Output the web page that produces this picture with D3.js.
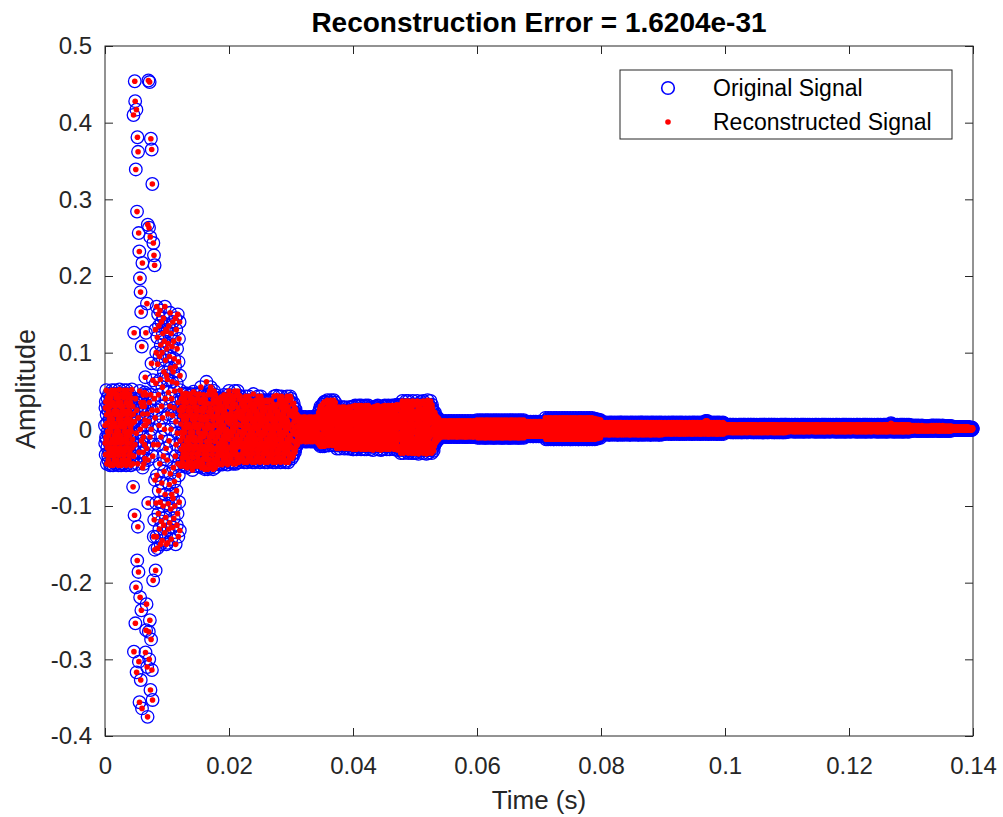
<!DOCTYPE html>
<html>
<head>
<meta charset="utf-8">
<script src="https://cdn.jsdelivr.net/npm/d3@7"></script>
<style>
  body { margin: 0; background: #fff; }
  svg { font-family: "Liberation Sans", Arial, sans-serif; }
</style>
</head>
<body>
<svg width="1003" height="817"></svg>
<script>
(function (d3) {
  'use strict';
  const titleText = 'Reconstruction Error = 1.6204e-31';
  const xAxisLabelText = 'Time (s)';
  const yAxisLabelText = 'Amplitude';
  const legendLabels = ['Original Signal', 'Reconstructed Signal'];

  const xTicks = [0, 0.02, 0.04, 0.06, 0.08, 0.1, 0.12, 0.14];
  const xTickLabels = ['0', '0.02', '0.04', '0.06', '0.08', '0.1', '0.12', '0.14'];
  const yTicks = [-0.4, -0.3, -0.2, -0.1, 0, 0.1, 0.2, 0.3, 0.4, 0.5];
  const yTickLabels = ['-0.4', '-0.3', '-0.2', '-0.1', '0', '0.1', '0.2', '0.3', '0.4', '0.5'];

  // samples at 30 kHz, amplitudes in thousandths, one array per 10 ms
  const sampleRate = 30000;
  const ampUnit = 1000;

  const amp00 = [5,-18,28,-33,36,-10,
    51,-13,19,-45,8,-24,41,-3,30,-34,-40,24,-8,46,-29,13,-18,35,3,-47,
    30,-45,41,-3,-24,19,-34,51,-13,8,13,-29,35,-47,3,46,-18,24,-40,-8,
    -34,8,51,-24,30,-13,19,-45,41,-3,46,-18,-40,24,3,-29,35,-8,13,-47,
    41,-3,-34,19,52,-24,8,-13,30,-45,-8,35,-47,13,-18,46,3,-40,24,-29,
    19,-45,30,-13,41,-34,8,51,-3,-24,-29,3,46,-40,24,-8,-47,35,13,-18,
    51,-13,19,-45,8,-24,41,-3,30,-34,-40,24,-8,46,-29,13,-18,35,3,-47,
    41,-3,-34,19,52,-24,8,-13,30,-45,
    -75,20,410,-35,-290,126,10,-112,454,-20,428,-253,40,339,-206,-5,417,-317,25,284,
    -171,381,-45,-127,362,15,-186,256,-303,-30,232,-356,50,197,-219,0,179,-327,35,153,
    -236,-15,108,-364,30,217,-50,
    20,-30,45,-10,35,-45,5,30,-20,48,-38,12,
    68,-291,5,126,-262,45,-228,-25,164,-310,20,-375,267,
    -40,-96,455,10,-264,263,-300,35,453,-249,-10,251,-340,45,379,-274,0,86,365,-314,
    25,320,-353,-35,64,-197,243,-20,-140,227,-118,40,214,-157,-66,15,130,-184,60,-96,100,
    -140,160,-60,25,120,-155,85,-20,150,-110,45,-80,135,5,-130,95,-45,155,-95,65,
    -150,110,-10,-120,140,30,-70,100,-145,55,15,125,-100,-35,145,-125,75,-55,115,0,
    -135,160,-85,40,90,-115,130,-25,-150,70,105];

  const amp01 = [128,-40,65,-148,20,112,-97,48,-130,135,-15,-72,95,-122,30,152,-58,80,-104,0,
    125,-143,40,-85,108,62,-128,18,140,-90,75,-50,115,-116,28,92,-68,50,-100,82,
    -35,145,-150,10,-20,130,-80,60,-125,105,-5,-110,150,-45,35,-140,88,-60,118,-95,
    25,140,-132,70,
    51,-15,18,-48,7,-26,40,-4,29,-37,-43,24,-10,46,-32,13,-21,35,2,-46,
    29,-48,40,-4,-26,18,-37,47,-15,7,13,-32,35,-50,2,46,-21,24,-43,-10,
    -37,7,44,-26,29,-15,18,-48,40,-4,46,-21,-43,24,2,-32,35,-10,13,-53,
    40,-4,-37,18,49,-26,7,-15,29,-48,-10,35,-44,13,-21,46,2,-43,24,-32,
    18,-48,29,-15,40,-37,7,45,-4,-26,-32,2,46,-43,24,-10,-48,35,13,-21,
    55,-16,17,-50,6,-27,39,-5,28,-39,-45,23,-10,45,-33,12,-22,34,1,-52,
    28,-50,39,-5,-27,17,-39,62,-16,6,12,-33,34,-52,1,45,-22,23,-45,-10,
    -39,6,50,-27,28,-16,17,-50,55,-5,45,-22,-45,23,1,-33,34,-10,12,-52,
    39,-5,-39,17,50,-27,6,-16,28,-50,
    45,-14,15,-44,5,-24,35,-4,25,-34,-39,20,-9,40,-29,10,-19,30,0,-46,
    25,-44,35,-4,-24,15,-34,42,-14,5,10,-29,30,-46,0,40,-19,20,-39,-9,
    -34,5,45,-24,25,-14,15,-44,35,-4,40,-19,-39,20,0,-29,30,-9,10,-46,
    35,-4,-34,15,45,-24];

  const amp02 = [50,-13,17,-43,7,-23,39,-3,28,-33,-38,22,-8,44,-28,12,-18,33,2,-45,
    28,-43,39,-3,-23,17,-33,50,-13,7,12,-28,33,-45,2,44,-18,22,-38,-8,
    -33,7,50,-23,28,-13,17,-43,39,-3,44,-18,-38,22,
    43,-13,14,-41,5,-22,33,-4,24,-32,-37,19,-8,38,-27,10,-18,29,1,-43,
    24,-41,33,-4,-22,14,-32,43,-13,5,10,-27,29,-43,1,38,-18,19,-37,-8,
    -32,5,43,-22,24,-13,14,-41,33,-4,38,-18,-37,19,1,-27,29,-8,10,-43,
    33,-4,-32,14,46,-22,5,-13,24,-41,-8,29,-43,10,-18,38,1,-37,19,-27,
    14,-41,24,-13,33,-32,5,43,-4,-22,-27,1,38,-37,19,-8,-43,29,10,-18,
    43,-13,14,-41,5,-22,33,-4,24,-32,-37,19,-8,38,-27,10,-18,29,1,-43,
    24,-41,36,-4,-22,14,-32,38,-13,5,10,-27,29,-43,1,36,-18,19,-37,-8,
    -32,5,38,-22,24,-13,14,-41,30,-4,38,-18,-37,19,1,-27,29,-8,10,-43,
    33,-4,-32,14,43,-22,5,-13,24,-41,-8,29,-43,10,-18,44,1,-37,19,-27,
    14,-41,24,-13,33,-32,5,43,-4,-22,-27,1,38,-37,19,-8,-43,29,10,-18,
    43,-13,14,-41,5,-22,33,-4,24,-32,-37,19,-8,38,-27,10,-18,29,1,-43,
    24,-41,33,-4,-22,14,-32,43,-13,5,10,-27,29,-43,1,38,-18,19,-37,-8,
    -32,5,43,-22,24,-13];

  const amp03 = [40,-14,18,-38,6,-24,33,-2,24,-32,-35,16,-6,34,-26,10,-16,28,2,-30,
    22,-26,26,-4,-18,12,-22,20,-8,4,14,-20,18,-12,
    14,-6,4,-16,9,-11,-1,-14,6,-4,16,-9,1,11,9,-16,14,-1,-11,4,-6,
    1,-9,11,-14,6,16,-4,-11,4,14,-6,9,-1,-16,16,-4,-14,6,1,-9,11,
    -1,9,-16,14,-6,4,-11,11,-14,1,-4,16,-9,6,-6,14,-11,9,-16,-1,4,
    6,-9,16,-14,11,1,-4,4,-16,9,-1,14,-11,-6,-4,11,-9,16,-14,6,1,
    14,-6,4,-16,9,-11,-1,-14,6,-4,16,-9,1,
    18,-18,6,22,-10,14,-20,2,26,-14,10,-22,30,-6,18,-16,4,28,-20,12,
    -8,32,-22,0,24,-12,34,-18,8,20,-22,36,-4,16,
    35,-5,19,-21,11,-13,27,3,-17,23,-1,38,-9,15,7,31,
    11,-21,35,-13,3,27,-5,19,31,-9,7,-17,38,-1,23,15,
    -13,27,3,35,-21,19,-5,11,23,-17,38,-1,15,-9,31,7,
    -5,35,-21,19,11,-13,
    25,-10,11,-25,4,-18,18,-3,-21,14,-7,29,-14,7,0,21,
    11,-25,25,-3,-18,18,-10,4,7,-14,21,-21,0,29,-7,14,
    -18,4,25,-10,18,-3,11,-25,29,-7,-21,14,0,-14,21,7,
    18,-3,-18,11,25,-10,4,-25,-7,21,-21,7,-14,29,0,14,
    4,-25,18,-10,25,-18,11,-3,-14,0,29,-21,14,-7,21,7,-26];

  const amp04 = [30,-10,14,-26,6,-18,22,-2,-22,18,-6,31,-14,10,2,26,
    14,-26,30,-2,-18,22,-10,6,10,-14,26,-22,2,31,-6,18,
    -18,6,30,-10,22,-2,14,-26,31,-6,-22,18,2,-14,26,10,
    22,-2,-18,14,30,-10,6,-26,-6,26,-22,10,-14,31,2,18,
    6,-26,22,-10,30,-18,14,-2,-14,2,31,-22,18,-6,26,10,
    28,-10,14,-26,6,-18,22,-2,-22,18,-6,28,-14,10,2,26,
    14,-27,29,-2,-18,22,-10,6,10,-14,26,-22,2,30,-6,18,
    -18,6,29,-10,22,-2,14,-26,31,-6,-22,18,2,-14,26,10,
    22,-2,-18,14,28,-10,6,-27,-6,26,-22,10,-14,30,2,18,
    6,-26,22,-10,30,-18,14,-2,-14,2,31,-22,18,-6,26,10,
    30,-10,14,-26,6,-18,22,-2,-22,18,-6,31,-14,10,2,26,
    14,-26,30,-2,-18,22,-10,6,10,-14,26,-22,2,31,-6,18,
    -18,6,30,-10,22,-2,14,-26,31,-6,-22,18,2,-14,26,10,
    22,-2,-18,14,32,-10,6,-27,-6,26,-22,10,-14,31,2,18,
    30,-10,14,-26,
    32,-13,14,-31,5,-22,23,-4,-27,18,-9,37,-18,9,0,27,
    14,-31,32,-4,-22,23,-13,5,9,-18,27,-27,0,37,-9,18,
    -22,5,32,-13,23,-4,14,-31,37,-9,-27,18,0,-18,27,9,
    23,-4,-22,14,32,-13,5,-31,-9,27,-27,9,-18,37,0,18,
    5,-31,23,-13,32,-22,14,-4];

  const amp05 = [32,-13,14,-31,5,-22,23,-4,-27,18,-9,37,-18,9,0,27,
    14,-32,32,-4,-22,23,-13,5,9,-18,27,-27,0,36,-9,18,
    -22,5,33,-13,23,-4,14,-31,37,-9,-27,18,0,-18,27,9,
    23,-4,-22,14,32,-13,5,-32,-9,27,-27,9,-18,38,0,18,
    5,-31,23,-13,32,-22,14,-4,-27,18,-9,37,-18,9,0,27,14,-31,32,
    28,-26,10,-20,24,-4,16,-28,4,20,-22,12,-14,22,-8,6,-18,18,0,-12,
    14,-16,10,-6,16,-12,2,12,-14,8,-10,14,-4,6,-12,10,-2,8,-10,
    11,-3,4,-10,8,-6,1,-8,6,-1,9,-5,2,-10,11,-6,4,-3,8,1,
    -8,6,-1,9,-5,2,-10,11,-3,4,-6,8,1,-8,6,-1,9,-5,2,-10,
    4,-10,11,-3,8,-6,1,-1,9,-8,6,-5,2,11,-10,4,-3,8,-6,1,
    9,-8,6,-1,2,-5,-10,11,4,-3,8,-6,1,-8,9,-1,6,-5,2,-10,
    -3,11,-10,8,4,-6,1,-8,6,9,-1,-5,2,11,-10,4,-3,8,-6,1,
    6,-8,9,-1,2,-5,11,-10,4,-3,8,-6,1,-8,6,-1,9,-5,2,-10,
    11,-3,4,-10,8,-6,1,-8,6,-1,9,-5,2,-10,11,-6,4,-3,8,1,
    -8,6,-1,9,-5,2,-10,11,-3,4,-6,8,1,-8,6,-1,9,-5,2,-10,
    4,-10,11,-3,8,-6,1,-1,9,-8,6,-5,2,10,-9,4,-3,7];

  const amp06 = [12,-3,5,-11,9,-7,1,-9,7,-1,10,-5,3,-11,12,-7,5,-3,9,1,
    -9,7,-1,10,-5,3,-11,12,-3,5,-7,9,1,-9,7,-1,10,-5,3,-11,
    5,-11,12,-3,9,-7,1,-1,10,-9,7,-5,3,12,-11,5,-3,9,-7,1,
    10,-9,7,-1,3,-5,-11,12,5,-3,9,-7,1,-9,10,-1,7,-5,3,-11,
    -3,12,-11,9,5,-7,1,-9,7,10,-1,-5,3,12,-11,5,-3,9,-7,1,
    7,-9,10,-1,3,-5,12,-11,5,-3,9,-7,1,-9,7,-1,10,-5,3,-11,
    12,-3,5,-11,9,-7,1,-9,7,-1,10,-5,3,-11,12,-7,5,-3,9,1,
    -9,7,-1,10,-5,3,-11,12,-3,5,-7,9,1,-9,7,-1,10,-5,3,-11,
    5,-11,12,-3,9,-7,1,-1,10,-9,7,-5,3,12,-11,5,-3,9,-7,1,
    10,-9,7,-1,3,-5,-11,12,5,-3,9,-7,1,-9,10,-1,7,-5,3,-11,
    -3,12,-11,9,5,-7,1,-9,7,10,-1,-5,3,12,-11,5,-3,9,-7,1,
    7,-9,10,-1,3,-5,12,-11,5,-3,9,-7,
    10,-2,4,-9,8,-6,1,-8,6,-1,9,-5,2,-9,10,-6,4,-3,7,1,
    -8,6,-1,9,-5,2,-9,10,-3,4,-6,8,1,-8,6,-1,9,-5,2,-9,
    4,-9,10,-3,8,-6,1,-1,9,-8,6,-5,2,10,-9,4,-3,8,-6,1,
    9,-8,6,-1,2,-5,-9,10];

  const amp07 = [6,-8,9,-1,2,-5,10,-9,4,-3,8,-6,1,-8,6,-1,9,-5,2,-9,
    10,-3,4,-9,8,-6,1,-8,6,-1,9,
    15,-4,6,-13,11,-9,1,-11,9,-1,13,-6,3,-13,15,-9,6,-4,11,1,
    -11,9,-1,13,-6,3,-13,15,-4,6,-9,11,1,-11,9,-1,13,-6,3,-13,
    6,-13,15,-4,11,-9,1,-1,13,-11,9,-6,3,15,-13,6,-4,11,-9,1,
    13,-11,9,-1,3,-6,-13,15,6,-4,11,-9,1,-11,13,-1,9,-6,3,-13,
    -4,15,-13,11,6,-9,1,-11,9,13,-1,-6,3,15,-13,6,-4,11,-9,1,
    9,-11,13,-1,3,-6,15,-13,6,-4,11,-9,1,-11,9,-1,13,-6,3,-13,
    15,-4,6,-13,11,-9,1,-11,9,-1,13,-6,3,-13,15,-9,6,-4,11,1,
    -11,9,-1,13,-6,3,-13,15,-4,6,-9,11,1,-11,9,-1,13,-6,3,-13,
    6,-13,15,-4,11,-9,1,-1,13,-11,9,-6,3,15,-13,6,-4,11,-9,1,
    13,-11,9,-1,3,-6,-13,15,6,-4,11,-9,1,-11,13,-1,9,-6,3,-13,
    -4,15,-13,11,6,-9,1,-11,9,13,-1,-6,3,15,-13,6,-4,11,-9,1,
    9,-11,13,-1,3,-6,15,-13,6,-4,11,-9,1,-11,9,-1,13,-6,3,-13,
    14,-4,6,-12,11,-9,1,-11,9,-1,12,-6,3,-12,13,-9,6,-4,11,1,
    -10,9,-1,12,-6,3,-11,12,-4];

  const amp08 = [9,-2,4,-7,7,-5,1,-6,6,-1,8,-4,2,-7,9,-5,4,-2,7,1,
    -6,6,-1,8,-4,2,-7,9,-2,4,-5,7,1,-6,6,-1,8,-4,2,-7,
    4,-7,9,-2,7,-5,1,-1,8,-6,6,-4,2,9,-7,4,-2,7,-5,1,
    8,-6,6,-1,2,-4,-7,9,4,-2,7,-5,1,-6,8,-1,6,-4,2,-7,
    -2,9,-7,7,4,-5,1,-6,6,8,-1,-4,2,9,-7,4,-2,7,-5,1,
    9,-2,4,-7,7,-5,1,-6,6,-1,8,-4,2,-7,9,-5,4,-2,7,1,
    -6,6,-1,8,-4,2,-7,9,-2,4,-5,7,1,-6,6,-1,8,-4,2,-7,
    4,-7,9,-2,7,-5,1,-1,8,-6,6,-4,2,9,-7,4,-2,7,-5,1,
    8,-6,6,-1,2,-4,-7,9,4,-2,7,-5,1,-6,8,-1,6,-4,2,-7,
    -2,9,-7,7,4,-5,1,-6,6,8,-1,-4,2,9,-7,4,-2,7,-5,1,
    9,-2,4,-7,7,-5,1,-6,6,-1,8,-4,2,-7,9,-5,4,-2,7,1,
    -6,6,-1,8,-4,2,-7,9,-2,4,-5,7,1,-6,6,-1,8,-4,2,-7,
    4,-7,9,-2,7,-5,1,-1,8,-6,6,-4,2,9,-7,4,-2,7,-5,1,
    8,-6,6,-1,2,-4,-7,9,4,-2,7,-5,1,-6,8,-1,6,-4,2,-7,
    -2,9,-7,7,4,-5,1,-6,6,8,-1,-4,2,9,-7,4,-2,7,-5,1];

  const amp09 = [8,-2,4,-6,7,-4,1,-5,6,-1,9,-3,2,-6,8,-4,4,-2,7,1,
    -5,6,-1,8,-3,2,-6,9,-2,4,-4,7,1,-5,6,-1,8,-3,2,-6,
    4,-6,9,-2,7,-4,1,-1,8,-5,6,-3,2,9,-6,4,-2,7,-4,1,
    8,-5,6,-1,2,-3,-6,9,4,-2,7,-4,1,-5,8,-1,6,-3,2,-6,
    -2,9,-6,7,4,-4,1,-5,6,8,-1,-3,2,9,-6,4,-2,7,-4,1,
    8,-2,4,-6,7,-4,1,-5,6,-1,9,-3,2,-6,8,-4,4,-2,7,1,
    -5,6,-1,8,-3,2,-6,9,-2,4,-4,7,1,-5,6,-1,8,-3,2,-6,
    4,-6,9,-2,7,-4,1,-1,8,-5,6,-3,2,9,-6,4,-2,7,-4,1,
    8,-5,6,-1,2,-3,-6,9,4,-2,7,-4,1,-5,8,-1,6,-3,2,-6,
    -2,9,-6,7,4,-4,1,-5,6,8,-1,-3,2,9,-6,4,-2,7,-4,1,
    -5,6,-1,10,-3,2,-6,11,-2,4,-4,9,1,-5,11,-1,8,-3,2,-6,
    4,-6,9,-2,7,-4,1,-1,8,-5,6,-3,2,9,-6,4,-2,7,-4,1,
    8,-5,6,-1,2,-3,-6,9,4,-2,7,-4,1,-5,8,-1,6,-3,2,-6,
    -2,9,-6,7,4,-4,1,-5,6,8,-1,-3,2,9,-6,4,-2,7,-4,1,
    8,-2,4,-6,7,-4,1,-5,6,-1,9,-3,2,-6,8,-4,4,-2,7,1];

  const amp10 = [6,-1,3,-4,5,-3,1,-4,4,0,6,-2,2,-4,6,-3,3,-1,5,1,
    -3,4,0,6,-2,2,-4,6,-1,3,-3,5,1,-4,4,0,6,-2,2,-4,
    3,-4,6,-1,5,-3,1,0,5,-4,4,-2,2,6,-4,3,-1,5,-3,1,
    5,-4,4,0,2,-2,-4,6,3,-1,5,-3,1,-4,6,0,4,-2,2,-4,
    -1,6,-4,5,3,-3,1,-4,4,6,0,-2,2,6,-4,3,-1,5,-3,1,
    6,-1,3,-4,5,-3,1,-4,4,0,6,-2,2,-4,6,-3,3,-1,5,1,
    -3,4,0,6,-2,2,-4,6,-1,3,-3,5,1,-4,4,0,6,-2,2,-4,
    3,-4,6,-1,5,-3,1,0,5,-4,4,-2,2,6,-4,3,-1,5,-3,1,
    5,-4,4,0,2,-2,-4,6,3,-1,5,-3,1,-4,6,0,4,-2,2,-4,
    -1,6,-4,5,3,-3,1,-4,4,6,0,-2,2,6,-4,3,-1,5,-3,1,
    6,-1,3,-4,5,-3,1,-4,4,0,6,-2,2,-4,6,-3,3,-1,5,1,
    -3,4,0,6,-2,2,-4,6,-1,3,-3,5,1,-4,4,0,6,-2,2,-4,
    3,-4,6,-1,5,-3,1,0,5,-4,4,-2,2,6,-4,3,-1,5,-3,1,
    5,-4,4,0,2,-2,-4,6,3,-1,5,-3,1,-4,6,0,4,-2,2,-4,
    -1,6,-4,5,3,-3,1,-4,4,6,0,-2,2,6,-4,3,-1,5,-3,1];

  const amp11 = [6,-1,3,-3,5,-2,1,-3,4,0,6,-2,2,-3,5,-2,3,-1,5,1,
    -2,4,0,6,-2,2,-3,5,-1,3,-2,5,1,-3,4,0,6,-2,2,-3,
    3,-3,6,-1,5,-2,1,0,5,-3,4,-2,2,6,-3,3,-1,5,-2,1,
    5,-3,4,0,2,-2,-3,6,3,-1,5,-2,1,-3,6,0,4,-2,2,-3,
    -1,6,-3,5,3,-2,1,-3,4,6,0,-2,2,5,-3,3,-1,5,-2,1,
    6,-1,3,-3,5,-2,1,-3,4,0,6,-2,2,-3,5,-2,3,-1,5,1,
    -2,4,0,6,-2,2,-3,5,-1,3,-2,5,1,-3,4,0,6,-2,2,-3,
    3,-3,6,-1,5,-2,1,0,5,-3,4,-2,2,6,-3,3,-1,5,-2,1,
    5,-3,4,0,2,-2,-3,6,3,-1,5,-2,1,-3,6,0,4,-2,2,-3,
    -1,6,-3,5,3,-2,1,-3,4,6,0,-2,2,5,-3,3,-1,5,-2,1,
    6,-1,3,-3,5,-2,1,-3,4,0,6,-2,2,-3,5,-2,3,-1,5,1,
    -2,4,0,6,-2,2,-3,5,-1,3,-2,5,1,-3,4,0,6,-2,2,-3,
    3,-3,6,-1,5,-2,1,0,5,-3,4,-2,2,6,-3,3,-1,5,-2,1,
    5,-3,4,0,2,-2,-3,6,3,-1,5,-2,1,-3,6,0,4,-2,2,-3,
    -1,6,-3,5,3,-2,1,-3,4,6,0,-2,2,5,-3,3,-1,5,-2,1];

  const amp12 = [6,-1,3,-3,5,-2,1,-3,4,0,6,-2,2,-3,5,-2,3,-1,5,1,
    -2,4,0,6,-2,2,-3,5,-1,3,-2,5,1,-3,4,0,6,-2,2,-3,
    3,-3,6,-1,5,-2,1,0,5,-3,4,-2,2,6,-3,3,-1,5,-2,1,
    5,-3,4,0,2,-2,-3,6,3,-1,5,-2,1,-3,6,0,4,-2,2,-3,
    -1,6,-3,5,3,-2,1,-3,4,6,0,-2,2,5,-3,3,-1,5,-2,1,
    6,-1,3,-3,5,-2,1,-3,4,0,6,-2,2,-3,5,-2,3,-1,5,1,
    -2,4,0,6,-2,2,-3,5,-1,3,-2,5,1,-3,4,0,6,-2,2,-3,
    3,-3,6,-1,5,-2,1,0,5,-3,4,-2,2,6,-3,3,-1,5,-2,1,
    5,-3,4,0,2,-2,-3,6,3,-1,5,-2,1,-3,6,0,4,-2,2,-3,
    -1,6,-3,5,3,-2,1,-3,4,6,0,-2,2,5,-3,3,-1,5,-2,1,
    -2,4,0,8,-2,2,-3,7,-1,3,-2,5,1,-3,4,0,6,-2,2,-3,
    3,-3,6,-1,5,-2,1,0,5,-3,4,-2,2,6,-3,3,-1,5,-2,1,
    5,-3,4,0,2,-2,-3,6,3,-1,5,-2,1,-3,6,0,4,-2,2,-3,
    -1,6,-3,5,3,-2,1,-3,4,6,0,-2,2,5,-3,3,-1,5,-2,1,
    6,-1,3,-3,5,-2,1,-3,4,0,6,-2,2,-3,5,-2,3,-1,5,1];

  const amp13 = [5,-1,2,-2,4,-1,1,-2,3,0,5,-1,2,-2,4,-1,3,0,4,1,
    -1,3,0,5,-1,2,-2,4,0,3,-2,4,1,-2,3,0,5,-1,2,-2,
    3,-2,4,0,4,-1,1,0,4,-2,3,-1,2,5,-2,3,0,4,-1,1,
    4,-2,3,0,2,-1,-2,4,3,-1,4,-1,1,-2,4,0,3,-1,2,-2,
    0,4,-2,4,2,-1,1,-2,3,4,0,-1,2,4,-2,3,0,4,-1,1,
    5,-1,2,-2,4,-1,1,-2,3,0,5,-1,2,-2,4,-1,3,0,4,1,
    -1,3,0,5,-1,2,-2,4,0,3,-2,4,1,-2,3,0,5,-1,2,-2,
    3,-2,4,0,4,-1,1,0,4,-2,3,-1,2,5,-2,3,0,4,-1,1,
    4,-2,3,0,2,-1,-2,4,3,-1,4,-1,1,-2,4,0,3,-1,2,-2,
    0,4,-2,4,2,-1,1,-2,3,4,0,-1,2,4,-2,3,0,4,-1,1,
    3,-1,2,-1,3,0,1,-1,3,0,3,-1,2,-1,3,0,2,0,3,1,
    -1,2,0,3,-1,2,-1,3,0,2,-1,3,1,-1,2,0,3,-1,2,-1,
    2,-1,3,0,3,-1,1,0,3,-1,2,0,2,3,-1,2,0,3,-1,1,
    3,-1,2,-1,3,0,1,-1,3,0,3,-1,2,-1,3,0,2,0,3,1,
    1,0,2,0,2,-1,1,0,2,-1,2,0,1,2,-1,2,0,2,0,1];

  const svg = d3.select('svg');
  const width = +svg.attr('width');
  const height = +svg.attr('height');
  const margin = { top: 46, right: 30, bottom: 81, left: 105 };
  const innerWidth = width - margin.left - margin.right;
  const innerHeight = height - margin.top - margin.bottom;
  const axisColor = '#262626';

  const samples = [amp00, amp01, amp02, amp03, amp04, amp05, amp06,
    amp07, amp08, amp09, amp10, amp11, amp12, amp13]
    .flat()
    .map((v, i) => ({ t: i / sampleRate, a: v / ampUnit }));
  // the reconstruction is identical to the original
  const original = samples;
  const reconstructed = samples;

  const xScale = d3.scaleLinear().domain([0, 0.14]).range([0, innerWidth]);
  const yScale = d3.scaleLinear().domain([-0.4, 0.5]).range([innerHeight, 0]);

  svg.append('rect').attr('width', width).attr('height', height).attr('fill', '#fff');

  const g = svg.append('g')
    .attr('transform', `translate(${margin.left},${margin.top})`);

  const tickLen = 8;
  const styleAxis = sel => {
    sel.select('.domain').remove();
    sel.selectAll('.tick line').attr('stroke', axisColor);
    sel.selectAll('.tick text')
      .attr('fill', axisColor)
      .style('font-family', '"Liberation Sans", Arial, sans-serif')
      .style('font-size', '24px');
  };

  g.append('g')
    .attr('transform', `translate(0,${innerHeight})`)
    .call(d3.axisBottom(xScale).tickValues(xTicks)
      .tickFormat((d, i) => xTickLabels[i])
      .tickSize(-tickLen).tickPadding(21))
    .call(styleAxis);

  g.append('g')
    .call(d3.axisTop(xScale).tickValues(xTicks).tickFormat('').tickSize(-tickLen))
    .call(styleAxis);

  g.append('g')
    .call(d3.axisLeft(yScale).tickValues(yTicks)
      .tickFormat((d, i) => yTickLabels[i])
      .tickSize(-tickLen).tickPadding(13))
    .call(styleAxis);

  g.append('g')
    .attr('transform', `translate(${innerWidth},0)`)
    .call(d3.axisRight(yScale).tickValues(yTicks).tickFormat('').tickSize(-tickLen))
    .call(styleAxis);

  g.append('rect')
    .attr('width', innerWidth)
    .attr('height', innerHeight)
    .attr('fill', 'none')
    .attr('stroke', axisColor)
    .attr('stroke-width', 1);

  g.append('g').selectAll('circle').data(original)
    .enter().append('circle')
      .attr('cx', d => xScale(d.t))
      .attr('cy', d => yScale(d.a))
      .attr('r', 6.3)
      .attr('fill', 'none')
      .attr('stroke', '#0000ff')
      .attr('stroke-width', 1.3);

  g.append('g').selectAll('circle').data(reconstructed)
    .enter().append('circle')
      .attr('cx', d => xScale(d.t))
      .attr('cy', d => yScale(d.a))
      .attr('r', 2.8)
      .attr('fill', '#ff0000');

  svg.append('text')
    .attr('x', margin.left + innerWidth / 2)
    .attr('y', 32)
    .attr('text-anchor', 'middle')
    .attr('fill', '#000')
    .style('font-size', '28px')
    .style('font-weight', 'bold')
    .text(titleText);

  svg.append('text')
    .attr('x', margin.left + innerWidth / 2)
    .attr('y', 809)
    .attr('text-anchor', 'middle')
    .attr('fill', axisColor)
    .style('font-size', '26px')
    .text(xAxisLabelText);

  svg.append('text')
    .attr('transform', `translate(35,${margin.top + innerHeight / 2 - 2}) rotate(-90)`)
    .attr('text-anchor', 'middle')
    .attr('fill', axisColor)
    .style('font-size', '27px')
    .text(yAxisLabelText);

  const legend = svg.append('g').attr('transform', 'translate(620,70)');
  legend.append('rect')
    .attr('width', 332)
    .attr('height', 69)
    .attr('fill', '#fff')
    .attr('stroke', axisColor);
  legend.append('circle')
    .attr('cx', 48).attr('cy', 18).attr('r', 6.3)
    .attr('fill', 'none').attr('stroke', '#0000ff').attr('stroke-width', 1.6);
  legend.append('circle')
    .attr('cx', 48).attr('cy', 52).attr('r', 2.8)
    .attr('fill', '#ff0000');
  legend.selectAll('text.entry').data(legendLabels)
    .enter().append('text')
      .attr('class', 'entry')
      .attr('x', 93)
      .attr('y', (d, i) => 26 + i * 34)
      .attr('fill', '#000')
      .style('font-size', '23px')
      .text(d => d);
}(d3));
</script>
</body>
</html>
